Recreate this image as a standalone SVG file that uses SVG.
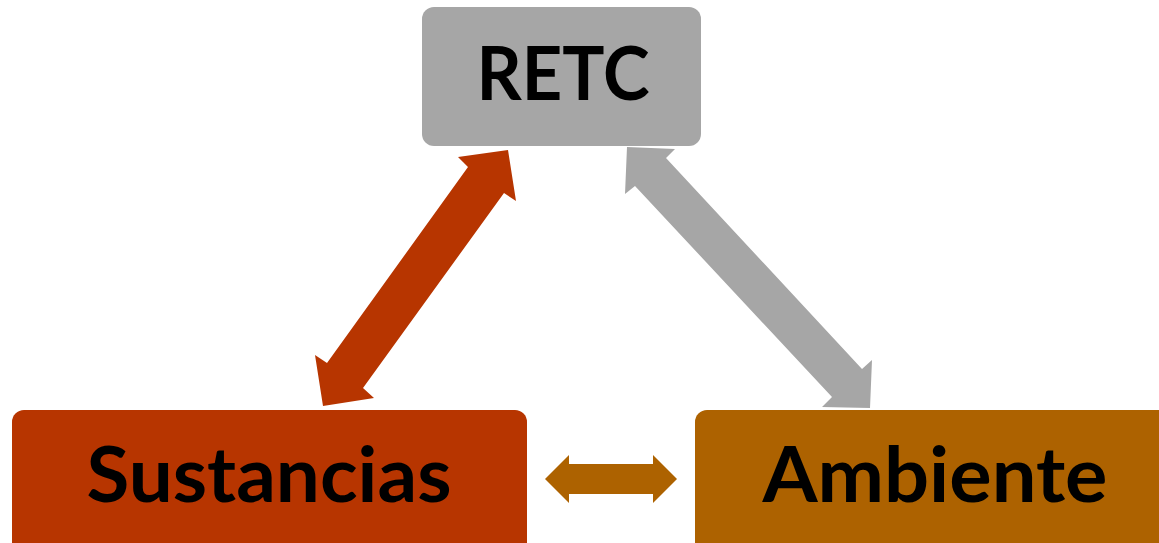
<svg xmlns="http://www.w3.org/2000/svg" width="1159" height="543" viewBox="0 0 1159 543">
<style>
.lbl{font-family:Lato,"Open Sans","Liberation Sans",sans-serif;font-weight:700;fill:#000;text-anchor:middle}
</style>
<rect width="1159" height="543" fill="#fff"/>
<g id="connectors">
<polygon fill="#B73500" points="508,150 516,201 504,193 363,388 374,398 323,406 315,355 327,363 468,167 458,157"/>
<polygon fill="#A6A6A6" points="627,147 675,149 666,158 862,369 872,360 870,408 822,407 832,397 635,186 625,194"/>
<polygon fill="#AD6200" points="545,479 569,455 569,464 653,464 653,455 677,479 653,503 653,494 569,494 569,503"/>
</g>
<g id="retc">
<rect x="422" y="7" width="279" height="139" rx="12" fill="#A6A6A6"/>
<text class="lbl" x="563" y="100" font-size="75" textLength="173" lengthAdjust="spacingAndGlyphs">RETC</text>
</g>
<g id="sustancias">
<rect x="12" y="410" width="515" height="150" rx="12" fill="#B73500"/>
<text class="lbl" x="269" y="502" font-size="77" textLength="365" lengthAdjust="spacingAndGlyphs">Sustancias</text>
</g>
<g id="ambiente">
<rect x="695" y="410" width="480" height="150" rx="12" fill="#AD6200"/>
<text class="lbl" x="935" y="502" font-size="77" textLength="345" lengthAdjust="spacingAndGlyphs">Ambiente</text>
</g>
</svg>
